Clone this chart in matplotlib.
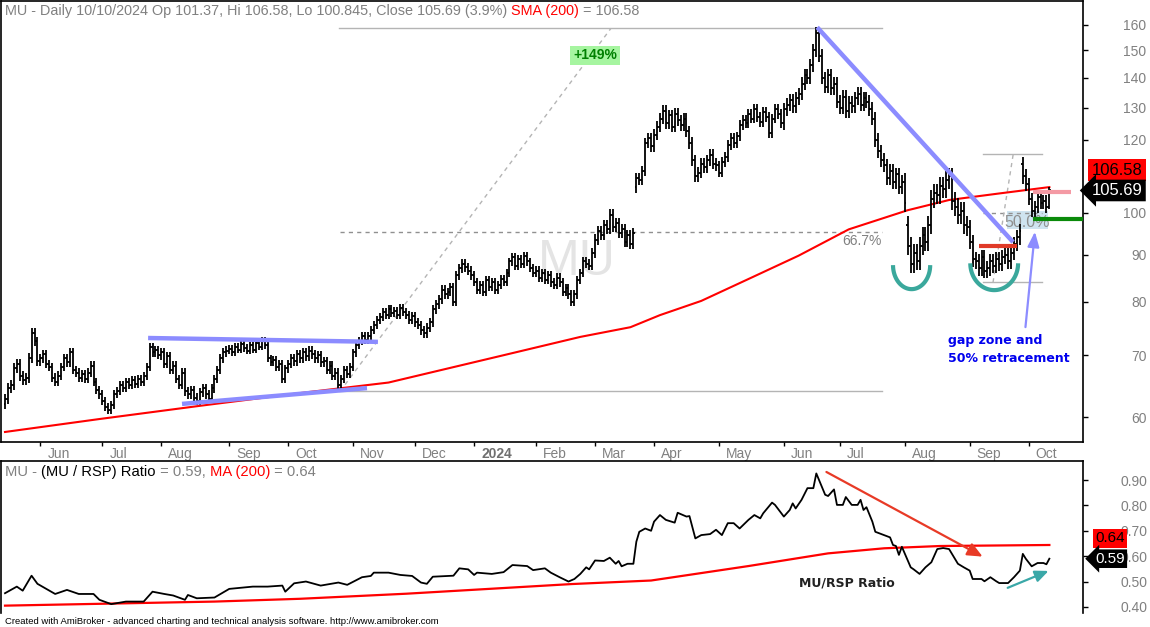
import numpy as np
import pandas as pd
import matplotlib
matplotlib.use('Agg')
import matplotlib.pyplot as plt
from matplotlib import transforms
from matplotlib.collections import LineCollection

plt.rcParams['font.family'] = ['Liberation Sans', 'DejaVu Sans']

# ---- data ----
holidays = ['2023-05-29', '2023-06-19', '2023-07-04', '2023-09-04', '2023-11-23',
            '2023-12-25', '2024-01-01', '2024-01-15', '2024-02-19', '2024-03-29',
            '2024-05-27', '2024-06-19', '2024-07-04', '2024-09-02']

may23 = [62.8, 64.5, 65.0, 67.8, 68.5, 66.5, 65.8, 66.2, 69.5, 74.0, 72.5, 69.0]
jun23 = [69.5, 70.2, 68.5, 68.0, 66.2, 65.5, 66.5, 68.0, 69.5, 68.8, 70.5, 67.5, 67.0,
         66.2, 66.8, 66.0, 67.0, 68.2, 65.5, 64.2, 63.5]
jul23 = [62.5, 61.5, 61.0, 61.8, 63.5, 64.0, 65.0, 64.5, 65.5, 65.0, 65.8, 65.2, 66.0,
         65.5, 66.5, 68.0, 71.5, 70.5, 71.0, 70.0]
aug23 = [70.5, 68.5, 69.8, 67.5, 68.2, 66.0, 65.0, 67.0, 64.0, 63.5, 64.2, 63.0, 62.5,
         63.8, 64.5, 63.5, 62.8, 64.5, 66.0, 67.5, 69.5, 70.5, 70.8]
sep23 = [71.2, 70.5, 71.5, 71.0, 72.0, 71.3, 70.8, 71.8, 71.0, 72.2, 71.5, 72.6, 71.8,
         69.5, 68.8, 69.2, 68.0, 68.5, 66.0, 67.8]
oct23 = [68.5, 69.5, 69.0, 70.2, 69.5, 70.5, 69.8, 70.8, 70.2, 69.5, 70.0, 68.8, 69.0,
         67.5, 68.2, 66.5, 67.0, 65.0, 66.0, 67.5, 66.8, 68.0]
nov23 = [70.5, 71.8, 72.5, 73.5, 72.8, 73.5, 74.5, 75.5, 76.5, 77.0, 78.0, 77.5, 78.5,
         77.8, 78.2, 77.5, 78.8, 78.0, 77.5, 76.5, 77.2]
dec23 = [76.0, 75.5, 74.5, 74.0, 75.0, 76.0, 78.5, 79.5, 80.5, 82.5, 81.5, 82.0, 83.0,
         80.0, 85.5, 87.0, 88.0, 87.2, 86.5, 85.5]
jan24 = [84.0, 82.5, 83.5, 82.0, 84.5, 83.0, 84.0, 82.5, 83.5, 84.8, 84.0, 86.0, 88.5,
         89.5, 87.5, 89.0, 88.0, 89.8, 88.5, 87.0, 86.0]
feb24 = [86.5, 85.0, 86.0, 84.5, 85.5, 84.0, 83.5, 85.0, 84.0, 82.0, 82.8, 81.5, 80.0,
         81.5, 84.5, 86.0, 88.5, 88.0, 87.5, 90.5]
mar24 = [93.5, 95.5, 94.5, 97.0, 96.0, 99.5, 96.5, 97.5, 95.0, 96.0, 93.0, 94.5, 92.5,
         95.0, 109.0, 108.5, 111.0, 119.0, 120.5, 118.0]
apr24 = [121.5, 124.0, 126.5, 129.0, 125.0, 127.5, 124.0, 128.0, 126.0, 124.5, 126.5,
         122.5, 119.0, 114.0, 109.5, 110.5, 113.0, 112.0, 114.0, 115.5, 113.0, 112.5]
may24 = [110.5, 113.5, 115.0, 118.5, 120.5, 119.0, 121.0, 124.5, 126.0, 125.0, 128.0,
         126.5, 129.5, 127.0, 125.5, 128.5, 127.0, 122.0, 126.5, 129.5, 128.0, 125.0]
jun24 = [129.5, 131.0, 132.5, 130.5, 133.0, 134.5, 138.0, 141.0, 140.0, 144.5, 150.0,
         156.5, 148.0, 140.0, 137.0, 141.0, 136.5, 138.0, 132.0]
jul24 = [130.0, 133.5, 129.0, 131.5, 130.5, 133.0, 134.5, 131.0, 133.0, 132.0, 129.5,
         126.5, 120.0, 116.5, 114.0, 112.5, 109.0, 111.0, 108.0, 110.0, 106.5, 108.0]
aug24 = [102.5, 92.0, 88.0, 90.5, 88.5, 92.0, 94.5, 93.0, 97.0, 103.5, 105.0, 104.5,
         107.0, 106.0, 108.5, 109.5, 103.0, 101.5, 99.5, 100.5, 97.0, 96.5]
sep24 = [93.0, 89.0, 88.5, 87.0, 89.5, 86.5, 87.0, 88.5, 87.5, 89.0, 88.0, 89.5, 90.0,
         88.5, 90.5, 92.5, 94.0, 95.5, 109.5, 107.5]
oct24 = [103.5, 100.5, 101.5, 104.0, 102.5, 103.0, 101.4, 105.69]

# opens that differ from the prior close (gaps)
gap_open = {0: 62.0, 214: 106.5, 306: 97.0, 345: 113.0, 354: 101.37}
# typical daily range per month
month_spread = [0.012, 0.011, 0.010, 0.011, 0.009, 0.011, 0.010, 0.011, 0.010,
                0.011, 0.013, 0.014, 0.012, 0.016, 0.017, 0.022, 0.018, 0.015]

# 200-day SMA of price
sma_idx = [0, 32, 66, 100, 130, 168, 195, 212, 222, 236, 253, 269, 286, 306, 320, 337, 354]
sma_val = [57.8, 59.7, 61.7, 63.7, 65.4, 69.9, 73.3, 75.1, 77.4, 80.2, 85.0, 89.8,
           95.9, 100.6, 103.2, 104.9, 106.58]

# MU / RSP ratio
ratio_idx = [0, 4, 6, 9, 11, 17, 21, 25, 30, 32, 36, 41, 47, 50, 54, 57, 61, 62, 65, 71,
             76, 84, 89, 94, 95, 98, 102, 107, 113, 116, 121, 124, 125, 130, 134, 138,
             141, 143, 145, 152, 154, 157, 159, 160, 165, 169, 172, 177, 179, 183, 185,
             188, 191, 193, 195, 197, 198, 200, 203, 205, 207, 208, 209, 211, 213, 214,
             215, 217, 219, 220, 222, 224, 227, 228, 231, 232, 234, 236, 239, 241, 243,
             245, 247, 249, 252, 254, 256, 257, 260, 261, 264, 266, 267, 268, 270, 272,
             274, 275, 278, 279, 281, 282, 284, 285, 287, 289, 290, 291, 292, 294, 295,
             298, 300, 301, 302, 303, 304, 307, 308, 310, 312, 314, 316, 318, 320, 323,
             325, 327, 328, 331, 332, 334, 336, 337, 340, 342, 344, 345, 346, 348, 350,
             352, 353, 354]
ratio_val = [0.454, 0.480, 0.464, 0.523, 0.491, 0.451, 0.467, 0.451, 0.451, 0.428, 0.411,
             0.421, 0.421, 0.460, 0.451, 0.445, 0.428, 0.447, 0.434, 0.437, 0.471, 0.480,
             0.480, 0.484, 0.460, 0.493, 0.500, 0.484, 0.496, 0.487, 0.517, 0.522, 0.535,
             0.535, 0.526, 0.522, 0.496, 0.491, 0.519, 0.523, 0.552, 0.548, 0.526, 0.535,
             0.530, 0.537, 0.565, 0.561, 0.545, 0.552, 0.535, 0.517, 0.500, 0.510, 0.530,
             0.556, 0.548, 0.583, 0.581, 0.594, 0.570, 0.581, 0.560, 0.570, 0.570, 0.657,
             0.696, 0.709, 0.700, 0.736, 0.762, 0.743, 0.732, 0.771, 0.756, 0.758, 0.670,
             0.683, 0.687, 0.704, 0.683, 0.730, 0.730, 0.709, 0.743, 0.762, 0.749, 0.769,
             0.811, 0.802, 0.756, 0.782, 0.808, 0.788, 0.822, 0.868, 0.868, 0.926, 0.842,
             0.837, 0.863, 0.802, 0.802, 0.833, 0.802, 0.802, 0.822, 0.782, 0.793, 0.736,
             0.696, 0.683, 0.674, 0.644, 0.640, 0.605, 0.637, 0.556, 0.548, 0.530, 0.556,
             0.576, 0.628, 0.632, 0.628, 0.570, 0.556, 0.543, 0.510, 0.510, 0.501, 0.517,
             0.501, 0.494, 0.494, 0.517, 0.543, 0.609, 0.590, 0.560, 0.573, 0.573, 0.568,
             0.590]
rma_idx = [0, 71, 100, 136, 192, 219, 252, 279, 298, 317, 354]
rma_val = [0.405, 0.421, 0.432, 0.452, 0.490, 0.504, 0.561, 0.611, 0.631, 0.640, 0.644]

price_ticks = [60, 70, 80, 90, 100, 120, 130, 140, 150, 160]
ratio_ticks = [0.40, 0.50, 0.60, 0.70, 0.80, 0.90]

# ---- build OHLC ----
dates = pd.bdate_range('2023-05-15', '2024-10-10', freq='C', holidays=holidays)
close = np.array(may23 + jun23 + jul23 + aug23 + sep23 + oct23 + nov23 + dec23 + jan24
                 + feb24 + mar24 + apr24 + may24 + jun24 + jul24 + aug24 + sep24 + oct24)
n = len(close)
dates = dates[:n]
xi = np.arange(n)
per = dates.to_period('M')
mcode = np.cumsum(np.r_[0, (per[1:] != per[:-1]).astype(int)])
sp = np.array(month_spread)[mcode]
op = np.r_[close[0], close[:-1]].astype(float)
for k, v in gap_open.items():
    op[k] = v
hi = np.maximum(op, close) * (1 + sp)
lo = np.minimum(op, close) * (1 - sp)
hi[-1], lo[-1] = 106.58, 100.845

# ---- figure ----
W, H = 1150, 627
fig = plt.figure(figsize=(W / 100, H / 100), dpi=100)


def box(x0, y0, x1, y1):
    return [x0 / W, 1 - y1 / H, (x1 - x0) / W, (y1 - y0) / H]


ax = fig.add_axes(box(1, 0.5, 1083, 442))
ax2 = fig.add_axes(box(1, 461, 1083, 613), sharex=ax)

grey = '#808080'
ax.set_yscale('log')
ax.set_ylim(56.37, 169.9)
ax.set_xlim(-1.36, 365.4)
ax.yaxis.set_minor_locator(matplotlib.ticker.NullLocator())
ax.set_yticks(price_ticks, [str(t) for t in price_ticks])
ax.yaxis.tick_right()
ax.tick_params(axis='y', direction='out', length=3.6, width=1, pad=42.2,
               labelcolor=grey, labelsize=10)
for lab in ax.get_yticklabels():
    lab.set_horizontalalignment('right')

starts = np.where(per[1:] != per[:-1])[0] + 1
mlabels = ['2024' if d.month == 1 else d.strftime('%b') for d in dates[starts]]
ax.set_xticks(starts, mlabels)
ax.tick_params(axis='x', direction='out', length=3, width=1, pad=0.5,
               labelcolor=grey, labelsize=10)
shift = transforms.ScaledTranslation(7 / 100, 0, fig.dpi_scale_trans)
for lab in ax.get_xticklabels():
    lab.set_horizontalalignment('left')
    lab.set_transform(lab.get_transform() + shift)
    if lab.get_text() == '2024':
        lab.set_fontweight('bold')
        lab.set_color('#707070')
for s in ax.spines.values():
    s.set_linewidth(1.2)

# watermark
ax.text(0.532, 0.407, 'MU', transform=ax.transAxes, fontsize=36, color='#e4e4e4',
        ha='center', va='center', zorder=0)

# measurement lines (+149%, 66.7%)
ax.plot([113.2, 297.3], [158.5, 158.5], color='#b4b4b4', lw=1, zorder=1)
ax.plot([113.2, 297.3], [64.0, 64.0], color='#b4b4b4', lw=1, zorder=1)
ax.plot([113.6, 205.4], [64.0, 158.5], color='#b4b4b4', lw=1, ls=(0, (3, 3)), zorder=1)
ax.plot([113.6, 297.3], [95.3, 95.3], color='#909090', lw=1, ls=(0, (3, 3)), zorder=1)
ax.text(297.3, 93.1, '66.7%', color=grey, fontsize=10, ha='right', va='center')
ax.text(200, 148.1, '+149%', color='#008000', fontsize=10, fontweight='bold',
        ha='center', va='center',
        bbox=dict(boxstyle='square,pad=0.2', fc='#a6f5a0', ec='none'))

# fibonacci on the right
ax.add_patch(plt.Rectangle((339.7, 96.1), 13.9, 4.2, fc='#cfe4f0', ec='none', zorder=1))
ax.plot([331.5, 351.5], [115.9, 115.9], color='#b4b4b4', lw=1, zorder=1)
ax.plot([331.5, 351.5], [84.0, 84.0], color='#b4b4b4', lw=1, zorder=1)
ax.plot([331.5, 351.5], [100.0, 100.0], color='#909090', lw=1, ls=(0, (3, 3)), zorder=1)
ax.plot([334.9, 341.7], [84.0, 115.5], color='#b4b4b4', lw=1, ls=(0, (3, 3)), zorder=1)
ax.text(346.5, 97.6, '50.0%', color='#909090', fontsize=11.5, ha='center', va='center',
        zorder=2)

# SMA
ax.plot(sma_idx, sma_val, color='#ff0000', lw=1.5, zorder=3)

# OHLC bars
segs = [[(i, lo[i]), (i, hi[i])] for i in xi]
segs += [[(i - 0.5, op[i]), (i, op[i])] for i in xi]
segs += [[(i, close[i]), (i + 0.5, close[i])] for i in xi]
ax.add_collection(LineCollection(segs, colors='black', linewidths=1.3, zorder=4))

# trend lines
tl = dict(color='#8c8cff', lw=3.2, solid_capstyle='butt', zorder=5)
ax.plot([48.5, 126.4], [73.1, 72.4], **tl)
ax.plot([60.0, 122.7], [62.0, 64.5], **tl)
ax.plot([275.3, 341.7], [158.9, 92.9], **tl)

ax.plot([330.2, 343.1], [92.0, 92.0], color='#e03a28', lw=3, solid_capstyle='butt', zorder=5)
ax.plot([348.5, 361.4], [105.4, 105.4], color='#f49aa4', lw=3, solid_capstyle='butt', zorder=5)
ax.plot([348.5, 365.4], [98.5, 98.5], color='#0a8a0a', lw=3, solid_capstyle='butt', zorder=5)

# rounded bottoms
t = np.linspace(np.pi, 2 * np.pi, 60)
for cx, rx, pc, ry in [(307.3, 6.3, 87.7, 0.060), (335.3, 8.1, 88.1, 0.067)]:
    ax.plot(cx + rx * np.cos(t), pc * np.exp(ry * np.sin(t)), color='#3aa89c',
            lw=3, solid_capstyle='butt', zorder=5)

ax.annotate('', xy=(349.2, 96.0), xytext=(345.8, 74.6),
            arrowprops=dict(arrowstyle='-|>,head_length=0.9,head_width=0.35',
                            color='#8c8cff', lw=1.6), zorder=6)
ax.text(319.7, 73.8, 'gap zone and\n50% retracement', color='#0000ee', fontsize=9,
        fontweight='bold', family='DejaVu Sans', ha='left', va='top', linespacing=1.45)

# ---- ratio panel ----
ax2.set_ylim(0.376, 0.975)
ax2.set_yticks(ratio_ticks, ['%.2f' % v for v in ratio_ticks])
ax2.yaxis.tick_right()
ax2.tick_params(axis='y', direction='out', length=3.6, width=1, pad=42.6,
                labelcolor=grey, labelsize=10)
for lab in ax2.get_yticklabels():
    lab.set_horizontalalignment('right')
ax2.tick_params(axis='x', which='both', bottom=False, labelbottom=False)
ax2.spines['bottom'].set_visible(False)
for s in ax2.spines.values():
    s.set_linewidth(1.2)

ax2.plot(rma_idx, rma_val, color='#ff0000', lw=1.6, zorder=2)
ax2.plot(ratio_idx, ratio_val, color='black', lw=1.3, zorder=3)
ax2.annotate('', xy=(332.2, 0.593), xytext=(277.6, 0.937),
             arrowprops=dict(arrowstyle='-|>,head_length=0.9,head_width=0.4',
                             color='#e83a26', lw=1.6))
ax2.annotate('', xy=(354.6, 0.546), xytext=(339.0, 0.471),
             arrowprops=dict(arrowstyle='-|>,head_length=0.8,head_width=0.35',
                             color='#3aa8a8', lw=1.6))
ax2.text(285.4, 0.494, 'MU/RSP Ratio', fontsize=9, fontweight='bold', family='DejaVu Sans',
         color='#222222', ha='center', va='center')


# ---- value tags ----
def tag(axis, val, txt, fc, tc, dy, style, xc, size):
    y = axis.transData.transform((0, val))[1] + dy
    tr = transforms.blended_transform_factory(fig.transFigure, transforms.IdentityTransform())
    fig.text(xc / W, y, txt, transform=tr, color=tc, fontsize=size, ha='center',
             va='center', bbox=dict(boxstyle=style, fc=fc, ec='none'))


tag(ax, 106.58, '106.58', '#ff0000', 'black', 17, 'square,pad=0.2', 1117, 12)
tag(ax, close[-1], '%.2f' % close[-1], 'black', 'white', 0, 'larrow,pad=0.2', 1117, 12)
tag(ax2, 0.644, '0.64', '#ff0000', 'black', 6.5, 'square,pad=0.15', 1110, 11)
tag(ax2, ratio_val[-1], '%.2f' % ratio_val[-1], 'black', 'white', 0, 'larrow,pad=0.15',
    1110, 11)


# ---- header lines ----
def colored(x, y, parts, size=10.6):
    r = fig.canvas.get_renderer()
    tr = fig.transFigure
    for s, c in parts:
        txt = fig.text(x, y, s, color=c, transform=tr, fontsize=size, va='center')
        w = txt.get_window_extent(renderer=r).width
        tr = transforms.offset_copy(tr, x=w, units='dots')


colored(5 / W, 1 - 11 / H, [
    ('MU - Daily 10/10/2024 Op 101.37, Hi 106.58, Lo 100.845, Close %.2f (3.9%%) ' % close[-1], grey),
    ('SMA (200)', '#ff0000'), (' = 106.58', grey)], size=10.4)
colored(5 / W, 1 - 472 / H, [
    ('MU - ', grey), ('(MU / RSP) Ratio', 'black'), (' = %.2f, ' % ratio_val[-1], grey),
    ('MA (200)', '#ff0000'), (' = 0.64', grey)])
fig.text(5 / W, 1 - 621 / H, 'Created with AmiBroker - advanced charting and technical '
         'analysis software. http://www.amibroker.com', fontsize=6.8, va='center')

fig.savefig('out.png', dpi=100)
